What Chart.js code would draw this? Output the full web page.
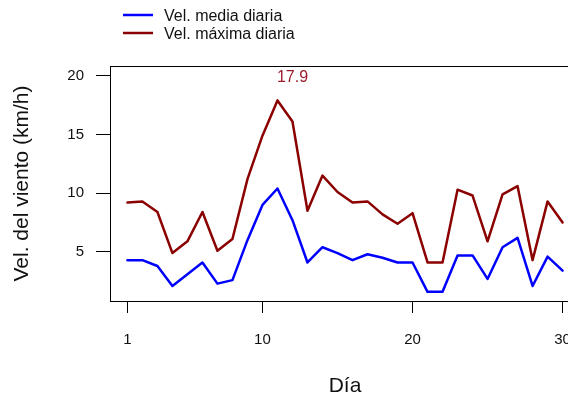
<!DOCTYPE html>
<html>
<head>
<meta charset="utf-8">
<script src="https://cdn.jsdelivr.net/npm/chart.js@4/dist/chart.umd.min.js"></script>
<style>
  html, body { margin: 0; padding: 0; overflow: hidden; background: #fff; }
  canvas { display: block; }
</style>
</head>
<body>
<canvas id="windChart" width="600" height="400"></canvas>
<script>
// datos
const dias = [1, 2, 3, 4, 5, 6, 7, 8, 9, 10, 11, 12, 13, 14, 15,
              16, 17, 18, 19, 20, 21, 22, 23, 24, 25, 26, 27, 28, 29, 30];
const velMedia = [4.3, 4.3, 3.8, 2.1, 3.1, 4.1, 2.3, 2.6, 6.0, 9.0, 10.4, 7.7, 4.1, 5.4, 4.9,
                  4.3, 4.8, 4.5, 4.1, 4.1, 1.6, 1.6, 4.7, 4.7, 2.7, 5.4, 6.2, 2.1, 4.6, 3.4];
const velMaxima = [9.2, 9.3, 8.4, 4.9, 5.9, 8.4, 5.1, 6.1, 11.2, 14.9, 17.9, 16.1, 8.5, 11.5, 10.1,
                   9.2, 9.3, 8.2, 7.4, 8.3, 4.1, 4.1, 10.3, 9.8, 5.9, 9.9, 10.6, 4.3, 9.3, 7.5];
const xTicks = [1, 10, 20, 30];
const yTicks = [5, 10, 15, 20];

const fontFamily = "'Liberation Sans', Arial, sans-serif";
Chart.defaults.font.family = fontFamily;
Chart.defaults.color = '#000';

function toPoints(values) {
    return dias.map((d, i) => ({ x: d, y: values[i] }));
}

// caja alrededor del area, leyenda arriba y etiqueta del maximo
const rBox = {
    id: 'rBox',
    afterDraw(chart) {
        const ctx = chart.ctx;
        const a = chart.chartArea;
        ctx.save();
        ctx.strokeStyle = '#000';
        ctx.lineWidth = 1;
        ctx.strokeRect(a.left + 0.5, a.top + 0.5, a.right - a.left, a.bottom - a.top);

        // leyenda
        ctx.font = '16px ' + fontFamily;
        ctx.textBaseline = 'middle';
        ctx.textAlign = 'left';
        chart.data.datasets.forEach((ds, i) => {
            const y = 15 + 18 * i;
            ctx.strokeStyle = ds.borderColor;
            ctx.lineWidth = 2.5;
            ctx.beginPath();
            ctx.moveTo(123, y);
            ctx.lineTo(153, y);
            ctx.stroke();
            ctx.fillStyle = '#111';
            ctx.fillText(ds.label, 164, y + 2);
        });

        // valor maximo
        const peak = Math.max(...velMaxima);
        const peakDay = dias[velMaxima.indexOf(peak)];
        const xs = chart.scales.x, ys = chart.scales.y;
        ctx.fillStyle = '#9a1c2c';
        ctx.font = '16px ' + fontFamily;
        ctx.textAlign = 'center';
        ctx.fillText(peak.toFixed(1), xs.getPixelForValue(peakDay + 1), ys.getPixelForValue(peak + 2) + 1);
        ctx.restore();
    }
};

const ctx = document.getElementById('windChart').getContext('2d');
const windChart = new Chart(ctx, {
    type: 'line',
    plugins: [rBox],
    data: {
        datasets: [
            {
                label: 'Vel. media diaria',
                data: toPoints(velMedia),
                borderColor: '#0000ff',
                borderWidth: 2.5,
                pointRadius: 0,
                tension: 0,
                borderCapStyle: 'round',
                borderJoinStyle: 'round'
            },
            {
                label: 'Vel. máxima diaria',
                data: toPoints(velMaxima),
                borderColor: '#8b0000',
                borderWidth: 2.5,
                pointRadius: 0,
                tension: 0,
                borderCapStyle: 'round',
                borderJoinStyle: 'round'
            }
        ]
    },
    options: {
        responsive: false,
        animation: false,
        layout: { padding: { top: 66, right: 20, left: 0, bottom: 0 } },
        scales: {
            x: {
                type: 'linear',
                min: -0.16,
                max: 31.16,
                afterBuildTicks(scale) {
                    scale.ticks = xTicks.map(v => ({ value: v }));
                },
                afterFit(scale) {
                    scale.height = 99;
                },
                ticks: {
                    font: { size: 15 },
                    padding: 18,
                    maxRotation: 0,
                    autoSkip: false,
                    color: '#111'
                },
                grid: {
                    display: true,
                    drawOnChartArea: false,
                    drawTicks: true,
                    tickLength: 12,
                    color: '#000'
                },
                border: { display: true, color: '#000' },
                title: {
                    display: true,
                    text: 'Día',
                    font: { size: 21 },
                    padding: { top: 0, bottom: 1 },
                    color: '#111'
                }
            },
            y: {
                type: 'linear',
                min: 0.82,
                max: 20.83,
                afterBuildTicks(scale) {
                    scale.ticks = yTicks.map(v => ({ value: v }));
                },
                afterFit(scale) {
                    scale.width = 110;
                },
                ticks: {
                    font: { size: 15 },
                    padding: 12,
                    color: '#111'
                },
                grid: {
                    display: true,
                    drawOnChartArea: false,
                    drawTicks: true,
                    tickLength: 14,
                    color: '#000'
                },
                border: { display: true, color: '#000' },
                title: {
                    display: true,
                    text: 'Vel. del viento (km/h)',
                    font: { size: 21 },
                    padding: { top: 10, bottom: 0 },
                    color: '#111'
                }
            }
        },
        plugins: {
            legend: { display: false },
            tooltip: { enabled: false }
        }
    }
});
</script>
</body>
</html>
